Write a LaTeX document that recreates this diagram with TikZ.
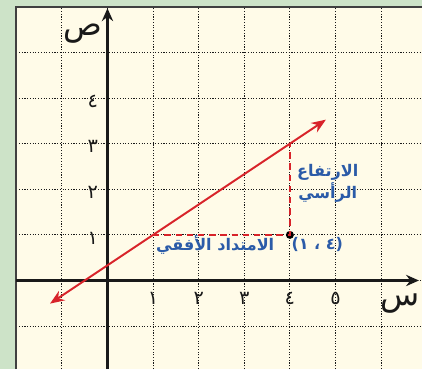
\documentclass[tikz,border=0pt]{standalone}
\usepackage{fontspec}
\newfontfamily\arabicfont[Script=Arabic]{DejaVu Sans}
\TeXXeTstate=1
\usetikzlibrary{arrows.meta}
\usetikzlibrary{positioning}

\definecolor{pagegreen}{HTML}{CDE3C8}
\definecolor{papercream}{HTML}{FFFBE8}
\definecolor{lineRed}{HTML}{D8232A}
\definecolor{labelBlue}{HTML}{2B5BA8}

\tikzset{
  gridline/.style={densely dotted,line width=0.7pt,black!90},
  axisline/.style={line width=1.7pt,black!90,-{Stealth[length=8pt,width=7pt]}},
  redline/.style={line width=1.2pt,lineRed,{Stealth[length=9pt,width=7pt]}-{Stealth[length=9pt,width=7pt]}},
  reddash/.style={dashed,dash pattern=on 4pt off 3pt,line width=1pt,lineRed},
  ticklabel/.style={font=\arabicfont\fontsize{12}{12}\selectfont,black!90},
  axislabel/.style={font=\arabicfont\fontsize{20}{20}\selectfont,black!90},
  bluelabel/.style={font=\arabicfont\bfseries\fontsize{10}{12}\selectfont,labelBlue,align=center},
  pointdot/.style={circle,fill=black,inner sep=0pt,minimum size=5pt}
}

\begin{document}
\begin{tikzpicture}
        % page and paper
        \fill[pagegreen] (-2.357,-1.941) rectangle (6.897,6.151);
        \useasboundingbox (-2.357,-1.941) rectangle (6.897,6.151);
        \fill[papercream] (-2,-1.941) rectangle (6.897,6);

        % grid
        \foreach \x in {-1,...,6}
          \draw[gridline] (\x,-1.941) -- (\x,6);
        \foreach \y in {-1,...,5}
          \draw[gridline] (-2,\y) -- (6.897,\y);
        \draw[line width=1pt,black!75] (-2,-1.941) -- (-2,6) -- (6.897,6);

        % axes
        \coordinate (xstart) at (-2,0);
        \coordinate (xend) at (6.83,0);
        \coordinate (ystart) at (0,-1.941);
        \coordinate (yend) at (0,5.97);
        \draw[axisline] (xstart) -- (xend);
        \draw[axisline] (ystart) -- (yend);

        \node[axislabel] (ylab) at (-0.55,5.42) {\beginR ص\endR};
        \node[axislabel] (xlab) at (6.42,-0.5) {\beginR س\endR};

        % tick labels
        \foreach \n/\d in {1/١,2/٢,3/٣,4/٤}
          \node[ticklabel] (yt\n) at (-0.32,\n-0.07) {\d};
        \foreach \n/\d in {1/١,2/٢,3/٣,4/٤,5/٥}
          \node[ticklabel] (xt\n) at (\n,-0.4) {\d};

        % line and rise/run
        \coordinate (runstart) at (1,1);
        \coordinate (risetop) at (4,3);
        \node[pointdot] (P) at (4,1) {};
        \draw[reddash] (runstart) -- (P.center) -- (risetop);

        \coordinate (lineLo) at (-1.26,-0.507);
        \coordinate (lineHi) at (4.79,3.527);
        \draw[redline] (lineLo) -- (lineHi);

        \node[bluelabel] (runlab) at (2.36,0.78) {\beginR الامتداد الأفقي\endR};
        \node[bluelabel] (riselab) at (4.83,2.13) {\beginR الارتفاع\endR\\\beginR الرأسي\endR};
        \node[bluelabel] (Plab) at (4.6,0.79) {\beginR(٤ ، ١)\endR};
      \end{tikzpicture}
\end{document}
